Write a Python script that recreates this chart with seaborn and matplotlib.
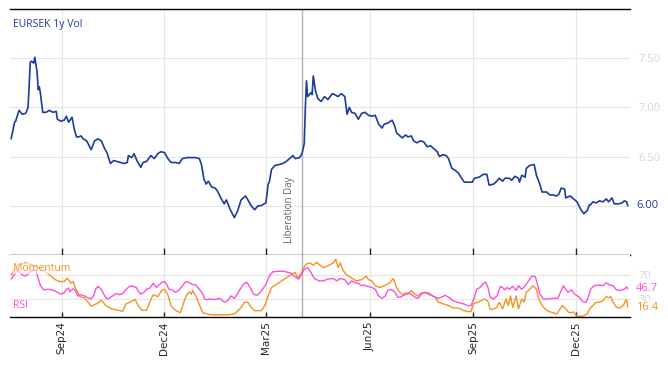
import matplotlib
matplotlib.use("Agg")
import matplotlib.pyplot as plt
import matplotlib.dates as mdates
import pandas as pd
import seaborn as sns

# ---------------- data ----------------
vol_dates = [
    "2024-07-18", "2024-07-21", "2024-07-22", "2024-07-25", "2024-07-28", "2024-07-31",
    "2024-08-02", "2024-08-04", "2024-08-05", "2024-08-07", "2024-08-08", "2024-08-10",
    "2024-08-11", "2024-08-12", "2024-08-13", "2024-08-15", "2024-08-18", "2024-08-21",
    "2024-08-24", "2024-08-27", "2024-08-28", "2024-08-31", "2024-09-03", "2024-09-05",
    "2024-09-07", "2024-09-10", "2024-09-12", "2024-09-14", "2024-09-16", "2024-09-18",
    "2024-09-20", "2024-09-23", "2024-09-27", "2024-09-30", "2024-10-03", "2024-10-06",
    "2024-10-09", "2024-10-11", "2024-10-14", "2024-10-17", "2024-10-20", "2024-10-26",
    "2024-10-29", "2024-10-30", "2024-11-02", "2024-11-04", "2024-11-07", "2024-11-10",
    "2024-11-12", "2024-11-15", "2024-11-19", "2024-11-22", "2024-11-25", "2024-11-28",
    "2024-12-01", "2024-12-04", "2024-12-07", "2024-12-11", "2024-12-14", "2024-12-17",
    "2024-12-21", "2024-12-25", "2024-12-28", "2025-01-01", "2025-01-03", "2025-01-05",
    "2025-01-07", "2025-01-09", "2025-01-12", "2025-01-15", "2025-01-17", "2025-01-20",
    "2025-01-23", "2025-01-25", "2025-01-28", "2025-02-01", "2025-02-04", "2025-02-07",
    "2025-02-11", "2025-02-14", "2025-02-16", "2025-02-19", "2025-02-22", "2025-02-24",
    "2025-02-26", "2025-03-01", "2025-03-03", "2025-03-04", "2025-03-06", "2025-03-09",
    "2025-03-13", "2025-03-16", "2025-03-19", "2025-03-22", "2025-03-25", "2025-03-27",
    "2025-03-31", "2025-04-02", "2025-04-04", "2025-04-05", "2025-04-06", "2025-04-07",
    "2025-04-10", "2025-04-11", "2025-04-12", "2025-04-14", "2025-04-16", "2025-04-19",
    "2025-04-22", "2025-04-25", "2025-04-29", "2025-05-01", "2025-05-04", "2025-05-07",
    "2025-05-10", "2025-05-12", "2025-05-14", "2025-05-16", "2025-05-19", "2025-05-22",
    "2025-05-25", "2025-05-28", "2025-05-31", "2025-06-03", "2025-06-06", "2025-06-09",
    "2025-06-12", "2025-06-14", "2025-06-17", "2025-06-21", "2025-06-23", "2025-06-25",
    "2025-06-28", "2025-06-30", "2025-07-03", "2025-07-05", "2025-07-08", "2025-07-10",
    "2025-07-13", "2025-07-16", "2025-07-19", "2025-07-22", "2025-07-25", "2025-07-28",
    "2025-07-31", "2025-08-02", "2025-08-05", "2025-08-08", "2025-08-10", "2025-08-13",
    "2025-08-16", "2025-08-19", "2025-08-21", "2025-08-24", "2025-08-27", "2025-08-31",
    "2025-09-02", "2025-09-06", "2025-09-10", "2025-09-13", "2025-09-15", "2025-09-19",
    "2025-09-21", "2025-09-24", "2025-09-27", "2025-09-29", "2025-10-03", "2025-10-05",
    "2025-10-08", "2025-10-11", "2025-10-12", "2025-10-14", "2025-10-17", "2025-10-18",
    "2025-10-21", "2025-10-25", "2025-10-27", "2025-10-30", "2025-11-01", "2025-11-05",
    "2025-11-08", "2025-11-11", "2025-11-14", "2025-11-16", "2025-11-18", "2025-11-21",
    "2025-11-22", "2025-11-26", "2025-11-29", "2025-12-02", "2025-12-05", "2025-12-08",
    "2025-12-11", "2025-12-13", "2025-12-14", "2025-12-16", "2025-12-19", "2025-12-22",
    "2025-12-25", "2025-12-28", "2025-12-30", "2026-01-02", "2026-01-04", "2026-01-08",
    "2026-01-11", "2026-01-13", "2026-01-15", "2026-01-16",
]
vol_values = [
    6.68, 6.85, 6.86, 6.97, 6.93, 6.94,
    7.00, 7.46, 7.47, 7.45, 7.51, 7.36,
    7.18, 7.21, 7.14, 6.95, 6.95, 6.97,
    6.95, 6.96, 6.88, 6.86, 6.87, 6.91,
    6.85, 6.90, 6.78, 6.70, 6.70, 6.71,
    6.68, 6.66, 6.57, 6.66, 6.68, 6.66,
    6.58, 6.54, 6.43, 6.46, 6.45, 6.43,
    6.44, 6.51, 6.49, 6.53, 6.45, 6.39,
    6.44, 6.45, 6.51, 6.48, 6.53, 6.55,
    6.54, 6.48, 6.44, 6.44, 6.43, 6.48,
    6.49, 6.49, 6.49, 6.48, 6.41, 6.27,
    6.22, 6.25, 6.19, 6.18, 6.15, 6.08,
    6.02, 6.06, 5.97, 5.88, 5.95, 6.06,
    6.10, 6.04, 6.00, 5.96, 6.00, 6.00,
    6.01, 6.03, 6.22, 6.24, 6.37, 6.41,
    6.42, 6.43, 6.45, 6.48, 6.51, 6.48,
    6.49, 6.53, 6.63, 7.00, 7.27, 7.11,
    7.15, 7.13, 7.32, 7.17, 7.09, 7.06,
    7.11, 7.08, 7.14, 7.13, 7.11, 7.14,
    7.11, 6.93, 7.00, 6.95, 6.94, 6.88,
    6.94, 6.95, 6.92, 6.91, 6.92, 6.83,
    6.79, 6.83, 6.84, 6.87, 6.82, 6.74,
    6.71, 6.69, 6.72, 6.70, 6.71, 6.66,
    6.64, 6.66, 6.65, 6.60, 6.61, 6.58,
    6.55, 6.50, 6.52, 6.51, 6.48, 6.38,
    6.36, 6.33, 6.29, 6.24, 6.24, 6.24,
    6.28, 6.29, 6.32, 6.32, 6.21, 6.22,
    6.24, 6.28, 6.25, 6.28, 6.28, 6.26,
    6.30, 6.28, 6.24, 6.31, 6.29, 6.38,
    6.41, 6.42, 6.31, 6.22, 6.14, 6.14,
    6.11, 6.11, 6.10, 6.12, 6.18, 6.17,
    6.08, 6.10, 6.07, 6.04, 5.97, 5.92,
    5.95, 6.01, 6.01, 6.04, 6.03, 6.05,
    6.04, 6.07, 6.04, 6.08, 6.02, 6.02,
    6.03, 6.05, 6.04, 6.00,
]

rsi_dates = [
    "2024-07-18", "2024-07-21", "2024-07-24", "2024-07-27", "2024-07-30", "2024-08-02",
    "2024-08-04", "2024-08-07", "2024-08-09", "2024-08-11", "2024-08-13", "2024-08-16",
    "2024-08-19", "2024-08-22", "2024-08-25", "2024-08-28", "2024-08-31", "2024-09-03",
    "2024-09-05", "2024-09-07", "2024-09-08", "2024-09-11", "2024-09-13", "2024-09-15",
    "2024-09-18", "2024-09-21", "2024-09-24", "2024-09-27", "2024-09-29", "2024-10-01",
    "2024-10-03", "2024-10-06", "2024-10-09", "2024-10-11", "2024-10-13", "2024-10-16",
    "2024-10-19", "2024-10-22", "2024-10-25", "2024-10-28", "2024-10-31", "2024-11-03",
    "2024-11-06", "2024-11-08", "2024-11-10", "2024-11-13", "2024-11-15", "2024-11-18",
    "2024-11-21", "2024-11-24", "2024-11-26", "2024-11-29", "2024-12-01", "2024-12-03",
    "2024-12-05", "2024-12-08", "2024-12-11", "2024-12-14", "2024-12-17", "2024-12-20",
    "2024-12-23", "2024-12-26", "2024-12-29", "2025-01-01", "2025-01-04", "2025-01-06",
    "2025-01-08", "2025-01-11", "2025-01-14", "2025-01-19", "2025-01-23", "2025-01-26",
    "2025-01-29", "2025-02-01", "2025-02-03", "2025-02-06", "2025-02-09", "2025-02-12",
    "2025-02-15", "2025-02-18", "2025-02-21", "2025-02-24", "2025-02-26", "2025-03-01",
    "2025-03-04", "2025-03-07", "2025-03-12", "2025-03-16", "2025-03-19", "2025-03-23",
    "2025-03-26", "2025-03-28", "2025-03-30", "2025-04-01", "2025-04-04", "2025-04-07",
    "2025-04-10", "2025-04-13", "2025-04-17", "2025-04-21", "2025-04-25", "2025-04-30",
    "2025-05-03", "2025-05-06", "2025-05-10", "2025-05-13", "2025-05-16", "2025-05-19",
    "2025-05-22", "2025-05-25", "2025-05-27", "2025-05-30", "2025-06-03", "2025-06-06",
    "2025-06-09", "2025-06-12", "2025-06-15", "2025-06-17", "2025-06-20", "2025-06-23",
    "2025-06-26", "2025-06-29", "2025-07-02", "2025-07-05", "2025-07-08", "2025-07-11",
    "2025-07-14", "2025-07-17", "2025-07-20", "2025-07-23", "2025-07-27", "2025-08-01",
    "2025-08-04", "2025-08-07", "2025-08-10", "2025-08-14", "2025-08-18", "2025-08-23",
    "2025-08-27", "2025-08-30", "2025-09-02", "2025-09-04", "2025-09-07", "2025-09-10",
    "2025-09-12", "2025-09-14", "2025-09-16", "2025-09-19", "2025-09-22", "2025-09-25",
    "2025-09-27", "2025-09-29", "2025-10-01", "2025-10-03", "2025-10-06", "2025-10-09",
    "2025-10-11", "2025-10-14", "2025-10-17", "2025-10-20", "2025-10-23", "2025-10-26",
    "2025-10-28", "2025-10-30", "2025-11-02", "2025-11-06", "2025-11-11", "2025-11-15",
    "2025-11-17", "2025-11-20", "2025-11-22", "2025-11-24", "2025-11-27", "2025-11-30",
    "2025-12-04", "2025-12-07", "2025-12-10", "2025-12-12", "2025-12-14", "2025-12-17",
    "2025-12-21", "2025-12-25", "2025-12-28", "2025-12-31", "2026-01-03", "2026-01-06",
    "2026-01-09", "2026-01-13", "2026-01-15", "2026-01-16",
]
rsi_values = [
    63, 71, 78, 71, 68, 71,
    75, 78, 77, 64, 52, 45,
    46, 45.5, 44, 41, 38, 40,
    46, 48, 42, 47, 44, 35,
    37, 35, 32, 30, 35, 46,
    51, 46, 35, 30, 31, 35,
    39, 37, 39, 46, 51, 51,
    49, 42, 38, 41, 46, 48,
    56, 49, 53, 58, 59, 54,
    46, 45, 41, 45, 52, 59,
    57, 54, 53, 46, 38, 29,
    29, 30, 29, 31, 24.5, 27,
    35, 31, 36, 46, 54, 58,
    49, 38, 36, 41, 46, 54,
    68, 75, 76, 76, 75, 73,
    68, 65, 63, 69, 79, 82,
    74, 64, 60, 60, 63, 64,
    60, 64, 62, 54, 60, 57,
    56, 52, 53, 51, 49, 46,
    35, 31, 35, 44, 46, 42,
    33, 33, 39, 40, 38, 33,
    31, 38, 41, 40, 35, 31,
    33, 36, 33, 27, 24.5, 22,
    19, 19, 33, 46, 49, 56,
    58, 49, 33, 30, 35, 51,
    49, 45, 49, 46, 51, 44,
    52, 46, 52, 60, 68, 67,
    54, 38, 30, 30, 31, 31,
    40, 52, 46, 41, 45, 38,
    33, 25.5, 24.5, 33, 46, 52,
    53, 52, 57, 53, 52, 45,
    44, 46, 50, 46.7,
]

mom_dates = [
    "2024-07-18", "2024-07-24", "2024-07-31", "2024-08-06", "2024-08-12", "2024-08-21",
    "2024-08-26", "2024-08-30", "2024-09-03", "2024-09-06", "2024-09-09", "2024-09-11",
    "2024-09-13", "2024-09-17", "2024-09-21", "2024-09-27", "2024-10-03", "2024-10-06",
    "2024-10-10", "2024-10-15", "2024-10-19", "2024-10-25", "2024-10-28", "2024-11-02",
    "2024-11-05", "2024-11-08", "2024-11-11", "2024-11-15", "2024-11-19", "2024-11-21",
    "2024-11-25", "2024-11-29", "2024-12-01", "2024-12-04", "2024-12-07", "2024-12-10",
    "2024-12-15", "2024-12-17", "2024-12-20", "2024-12-23", "2024-12-25", "2024-12-26",
    "2024-12-29", "2025-01-01", "2025-01-04", "2025-01-10", "2025-01-15", "2025-01-26",
    "2025-02-01", "2025-02-06", "2025-02-10", "2025-02-13", "2025-02-16", "2025-02-19",
    "2025-02-25", "2025-02-28", "2025-03-03", "2025-03-06", "2025-03-10", "2025-03-15",
    "2025-03-19", "2025-03-24", "2025-03-27", "2025-03-29", "2025-04-01", "2025-04-03",
    "2025-04-06", "2025-04-09", "2025-04-12", "2025-04-15", "2025-04-18", "2025-04-21",
    "2025-04-25", "2025-04-30", "2025-05-02", "2025-05-04", "2025-05-06", "2025-05-08",
    "2025-05-11", "2025-05-16", "2025-05-20", "2025-05-25", "2025-05-29", "2025-05-31",
    "2025-06-03", "2025-06-06", "2025-06-10", "2025-06-14", "2025-06-19", "2025-06-22",
    "2025-06-25", "2025-06-28", "2025-07-01", "2025-07-05", "2025-07-08", "2025-07-11",
    "2025-07-14", "2025-07-17", "2025-07-20", "2025-07-24", "2025-07-29", "2025-08-01",
    "2025-08-05", "2025-08-10", "2025-08-14", "2025-08-19", "2025-08-23", "2025-08-27",
    "2025-08-30", "2025-09-01", "2025-09-05", "2025-09-08", "2025-09-11", "2025-09-14",
    "2025-09-16", "2025-09-19", "2025-09-22", "2025-09-24", "2025-09-27", "2025-09-30",
    "2025-10-02", "2025-10-04", "2025-10-06", "2025-10-09", "2025-10-11", "2025-10-14",
    "2025-10-16", "2025-10-18", "2025-10-21", "2025-10-24", "2025-10-27", "2025-10-29",
    "2025-11-01", "2025-11-05", "2025-11-09", "2025-11-14", "2025-11-17", "2025-11-19",
    "2025-11-22", "2025-11-25", "2025-11-29", "2025-12-02", "2025-12-07", "2025-12-11",
    "2025-12-13", "2025-12-16", "2025-12-19", "2025-12-22", "2025-12-25", "2025-12-28",
    "2025-12-30", "2026-01-01", "2026-01-03", "2026-01-06", "2026-01-09", "2026-01-12",
    "2026-01-14", "2026-01-15", "2026-01-16",
]
mom_values = [
    70, 86, 90, 86, 81, 70,
    62, 59, 59, 64.5, 56, 59,
    48, 34, 31.6, 18, 23, 28,
    19, 13.5, 12, 9.5, 22, 26,
    29, 18, 11, 11, 29, 37,
    34, 45, 46, 37, 18, 12,
    7, 18, 34, 42, 38, 44,
    34, 20.6, 7, 4, 3.6, 3.6,
    5, 13.5, 24.5, 24.5, 16, 10.5,
    10.5, 19, 35, 49, 54, 60,
    65, 71, 74, 65, 71, 80,
    88, 90, 86, 91, 86, 82,
    85, 90, 96, 82, 90, 79,
    71, 65, 60, 62, 68, 62,
    60, 52, 49, 52, 57, 64,
    49, 41, 36, 38, 44, 38,
    35, 40, 40.5, 37, 33, 24.5,
    22, 19, 15, 15, 11, 9,
    9, 22, 24.5, 27, 30, 26,
    12.5, 13.5, 16, 24.5, 13.5, 30,
    19, 35, 16, 35, 13.5, 30,
    24.5, 41, 46, 52, 46, 30,
    19, 11, 8, 5, 13.5, 19,
    13.5, 7, 8, 1.4, 1.4, 5,
    13.5, 19, 24.5, 24.5, 27, 34,
    32, 34, 24.5, 16, 15, 19,
    27, 29, 16.4,
]

ytick_vals = [6.0, 6.5, 7.0, 7.5]
osc_ticks = [30, 70]
event_date = "2025-04-02"
event_label = "Liberation Day"
title = "EURSEK 1y Vol"

# ---------------- styling ----------------
sns.set_style("white")
plt.rcParams["font.family"] = ["Open Sans", "DejaVu Sans"]

BLUE = "#1c3c9e"
ORANGE = "#f7921e"
PINK = "#ff4fd6"
GRID = "#e6e6e6"
LIGHT = "#d4d4d4"

vol = pd.DataFrame({"date": pd.to_datetime(vol_dates), "value": vol_values})
rsi = pd.DataFrame({"date": pd.to_datetime(rsi_dates), "value": rsi_values})
mom = pd.DataFrame({"date": pd.to_datetime(mom_dates), "value": mom_values})

fig = plt.figure(figsize=(6.68, 3.66), dpi=100)
ax = fig.add_axes([0.015, 0.3033, 0.9281, 0.6721])
ax2 = fig.add_axes([0.015, 0.1339, 0.9281, 0.1694], sharex=ax)

sns.lineplot(data=vol, x="date", y="value", ax=ax, color=BLUE, lw=1.2, estimator=None)
sns.lineplot(data=mom, x="date", y="value", ax=ax2, color=ORANGE, lw=1.0, estimator=None)
sns.lineplot(data=rsi, x="date", y="value", ax=ax2, color=PINK, lw=1.0, estimator=None)

xmin, xmax = pd.Timestamp("2024-07-17"), pd.Timestamp("2026-01-18")
ax.set_xlim(xmin, xmax)
ax.set_ylim(5.5, 8.0)
ax2.set_ylim(0, 103)

for a in (ax, ax2):
    a.set_xlabel("")
    a.set_ylabel("")
    a.grid(True, color=GRID, lw=0.8)
    a.set_axisbelow(True)
    for s in ("left", "right"):
        a.spines[s].set_visible(False)
    for s in ("top", "bottom"):
        a.spines[s].set_color("black")
        a.spines[s].set_linewidth(1.0)
    a.yaxis.tick_right()
    a.xaxis.set_major_locator(mdates.MonthLocator(bymonth=[3, 6, 9, 12]))
    a.xaxis.set_major_formatter(mdates.DateFormatter("%b%y"))

# the last-value label takes the place of the grid label it sits on
last_vol = vol_values[-1]
ax.set_yticks(ytick_vals)
ax.set_yticklabels(["" if abs(v - last_vol) < 0.1 else f"{v:.2f}" for v in ytick_vals])
ax.tick_params(axis="y", length=0, pad=6, labelsize=8, labelcolor=LIGHT)
ax.tick_params(axis="x", direction="in", length=5, width=1, labelbottom=False, bottom=True)

ax2.set_yticks(osc_ticks)
ax2.tick_params(axis="y", length=0, pad=6, labelsize=8, labelcolor=LIGHT)
ax2.tick_params(axis="x", direction="in", length=3.5, width=1, labelsize=7.5,
                labelrotation=90, pad=3, bottom=True)
for lab in ax2.get_xticklabels():
    lab.set_fontfamily("DejaVu Sans")
ax2.spines["top"].set_visible(False)

# event line
ev = pd.Timestamp(event_date)
ax.axvline(ev, color="#b0b0b0", lw=1.0, zorder=1)
ax2.axvline(ev, color="#b0b0b0", lw=1.0, zorder=1)
ax.annotate(event_label, xy=(ev, 5.62), xytext=(-5, 0), textcoords="offset points",
            rotation=90, ha="right", va="bottom", fontsize=7, color="#666666")

# titles / labels
ax.text(0.005, 0.935, title, transform=ax.transAxes, color=BLUE, fontsize=7.5,
        ha="left", va="center")
ax2.text(0.005, 0.79, "Momentum", transform=ax2.transAxes, color=ORANGE, fontsize=7.5,
         ha="left", va="center",
         bbox=dict(facecolor="white", edgecolor="none", alpha=0.6, pad=0))
ax2.text(0.005, 0.18, "RSI", transform=ax2.transAxes, color=PINK, fontsize=7.5,
         ha="left", va="center")

# last value labels
ax.annotate(f"{last_vol:.2f}", xy=(1, last_vol),
            xycoords=("axes fraction", "data"), xytext=(4.5, 0), textcoords="offset points",
            ha="left", va="center", fontsize=8, color=BLUE)
ax2.annotate(f"{rsi_values[-1]:.1f}", xy=(1, rsi_values[-1]),
             xycoords=("axes fraction", "data"), xytext=(4.5, 0), textcoords="offset points",
             ha="left", va="center", fontsize=8, color=PINK,
             bbox=dict(facecolor="white", edgecolor="none", pad=0.3))
ax2.annotate(f"{mom_values[-1]:.1f}", xy=(1, mom_values[-1]),
             xycoords=("axes fraction", "data"), xytext=(4.5, 0), textcoords="offset points",
             ha="left", va="center", fontsize=8, color=ORANGE,
             bbox=dict(facecolor="white", edgecolor="none", pad=0.3))

fig.savefig("out.png", dpi=100)
